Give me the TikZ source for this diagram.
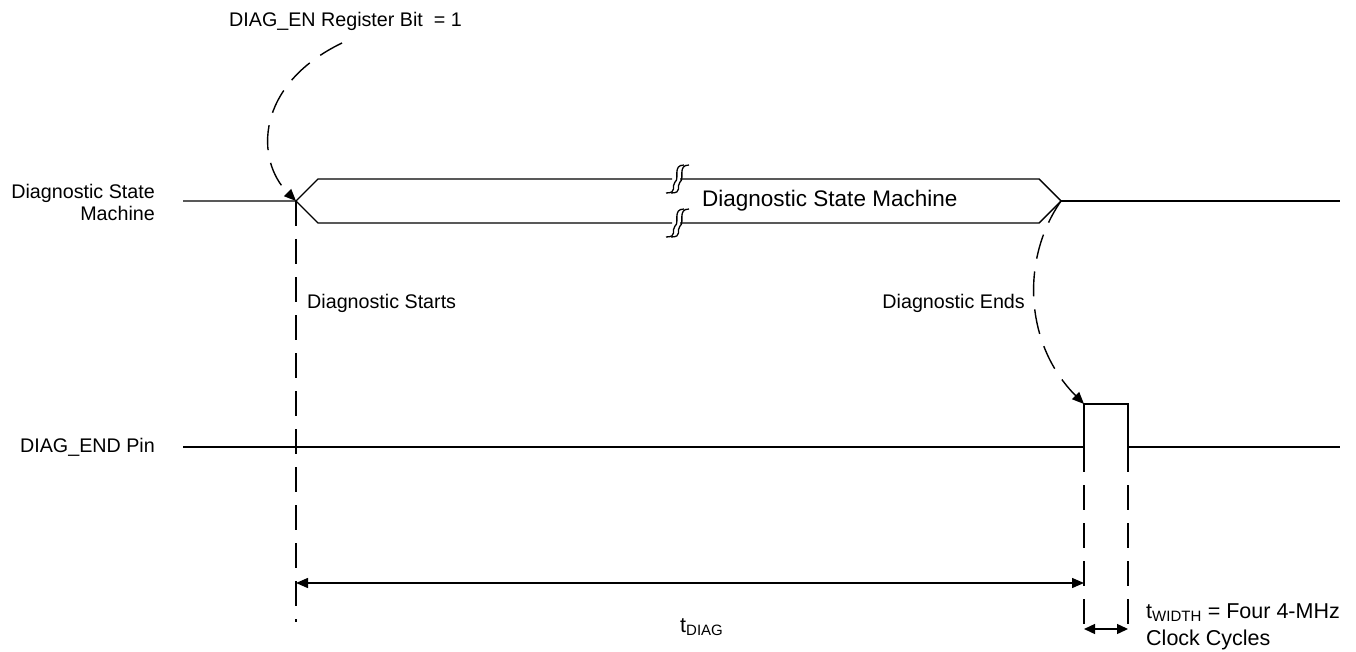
\documentclass[tikz,border=0pt]{standalone}
\usepackage{fontspec}
\setmainfont{Liberation Sans}
\usetikzlibrary{arrows.meta}
\begin{document}
\begin{tikzpicture}[x=1pt,y=-1pt,
  sig/.style={line width=1.4pt},
  dsh/.style={line width=1.4pt,dash pattern=on 25pt off 13pt},
  arr/.style={-{Triangle[length=12pt,width=10pt]}},
  lbl/.style={font=\fontsize{19.7}{22}\selectfont,inner sep=0pt},
  tlbl/.style={font=\fontsize{21.5}{25}\selectfont,inner sep=0pt},
  brk/.style={line width=1.3pt}]
\useasboundingbox (0,0) rectangle (1356,652);
% coordinates
\coordinate (dsmL) at (183,201);
\coordinate (hexL) at (296,201);
\coordinate (hexR) at (1061,201);
\coordinate (dsmR) at (1340,201);
\coordinate (pinL) at (183,447);
\coordinate (pUp) at (1084,447);
\coordinate (pTopL) at (1084,404);
\coordinate (pTopR) at (1128,404);
\coordinate (pDn) at (1128,447);
\coordinate (pinR) at (1340,447);
% state machine line
\draw[sig] (dsmL) -- (hexL) -- (318,179) -- (672,179);
\draw[sig] (hexL) -- (318,223) -- (672,223);
\draw[sig] (680,179) -- (1039,179) -- (hexR) -- (1039,223) -- (680,223);
\draw[sig] (hexR) -- (dsmR);
% break marks
\foreach \yy in {179,223}{
  \draw[brk] (684,\yy-14) .. controls (672,\yy-14) and (680,\yy+0) .. (675,\yy+3) .. controls (671,\yy+7) and (678,\yy+14) .. (666,\yy+14);
  \draw[brk] (689,\yy-14) .. controls (677,\yy-14) and (685,\yy+0) .. (680,\yy+3) .. controls (676,\yy+7) and (683,\yy+14) .. (671,\yy+14);
}
\node[font=\fontsize{22.5}{26}\selectfont,inner sep=0pt,anchor=west] (dsmtxt) at (702,201) {Diagnostic State Machine};
% DIAG_END pin
\draw[sig] (pinL) -- (pUp) -- (pTopL) -- (pTopR) -- (pDn) -- (pinR);
% labels left
\node[lbl,anchor=east,align=right] (lblDSM) at (155,202) {Diagnostic State\\Machine};
\node[lbl,anchor=east] (lblPin) at (155,447) {DIAG\_END Pin};
\node[lbl,anchor=west] (lblEN) at (229,21) {DIAG\_EN Register Bit \ = 1};
\node[lbl,anchor=west] (lblStart) at (307,303) {Diagnostic Starts};
\node[lbl,anchor=east] (lblEnd) at (1025,303) {Diagnostic Ends};
% dashed curved arrows
\coordinate (enS) at (342,43);
\draw[dsh,arr] (enS) .. controls (255,85) and (255,160) .. (hexL);
\draw[dsh,arr] (hexR) .. controls (1020,260) and (1025,345) .. (pTopL);
% vertical dashed lines
\coordinate (vStartB) at (296,622);
\coordinate (vA) at (1084,632);
\coordinate (vB) at (1128,632);
\draw[dsh] (hexL) -- (vStartB);
\draw[dsh] (pUp) -- (vA);
\draw[dsh] (pDn) -- (vB);
% timing arrows
\coordinate (tdL) at (296,583);
\coordinate (tdR) at (1084,583);
\draw[sig,{Triangle[length=12pt,width=10pt]}-{Triangle[length=12pt,width=10pt]}] (tdL) -- (tdR);
\node[tlbl,anchor=base west] (tdiag) at (680,632) {t\textsubscript{\fontsize{15}{17}\selectfont DIAG}};
\coordinate (twL) at (1084,629);
\coordinate (twR) at (1128,629);
\draw[sig,{Triangle[length=11pt,width=10pt]}-{Triangle[length=11pt,width=10pt]}] (twL) -- (twR);
\node[tlbl,anchor=base west] (twidth) at (1146,618) {t\textsubscript{\fontsize{15}{17}\selectfont WIDTH} = Four 4-MHz};
\node[tlbl,anchor=base west] (twidth2) at (1146,645) {Clock Cycles};
\end{tikzpicture}
\end{document}
